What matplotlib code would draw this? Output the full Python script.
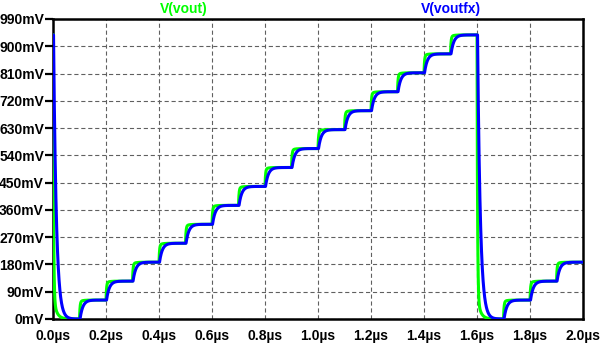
import numpy as np
import matplotlib
matplotlib.use("Agg")
import matplotlib.pyplot as plt

# ---- data ----
# staircase DAC code per 0.1 us slot (0.0-2.0 us), LSB = 62.5 mV
slot_start_us = [0.0, 0.1, 0.2, 0.3, 0.4, 0.5, 0.6, 0.7, 0.8, 0.9,
                 1.0, 1.1, 1.2, 1.3, 1.4, 1.5, 1.6, 1.7, 1.8, 1.9]
slot_code = [0, 1, 2, 3, 4, 5, 6, 7, 8, 9,
             10, 11, 12, 13, 14, 15, 0, 1, 2, 3]
initial_code = 15
lsb_mV = 62.5

# settling characteristics (us)
vout_fast_tau = 0.002
vout_slow_tau = 0.012
vout_fast_frac = 0.92
voutfx_tau = 0.0105
voutfx_delay = 0.002

y_ticks_mV = [0, 90, 180, 270, 360, 450, 540, 630, 720, 810, 900, 990]
y_tick_labels = ["0mV", "90mV", "180mV", "270mV", "360mV", "450mV", "540mV",
                 "630mV", "720mV", "810mV", "900mV", "990mV"]
x_ticks_us = [0.0, 0.2, 0.4, 0.6, 0.8, 1.0, 1.2, 1.4, 1.6, 1.8, 2.0]
x_tick_labels = ["0.0µs", "0.2µs", "0.4µs", "0.6µs", "0.8µs", "1.0µs",
                 "1.2µs", "1.4µs", "1.6µs", "1.8µs", "2.0µs"]

t = np.linspace(0.0, 2.0, 8001)
levels = np.array(slot_code) * lsb_mV
prev = np.concatenate([[initial_code * lsb_mV], levels[:-1]])


def response(h):
    y = np.full_like(t, initial_code * lsb_mV)
    for t0, lo, ln in zip(slot_start_us, prev, levels):
        y += (ln - lo) * h(t - t0)
    return y


def h_vout(d):
    d = np.clip(d, 0, None)
    r = 1 - (vout_fast_frac * np.exp(-d / vout_fast_tau)
             + (1 - vout_fast_frac) * np.exp(-d / vout_slow_tau))
    return np.where(d > 0, r, 0.0)


def h_voutfx(d):
    d = np.clip(d - voutfx_delay, 0, None)
    return np.where(d > 0, 1 - np.exp(-d / voutfx_tau), 0.0)


vout = response(h_vout)
voutfx = response(h_voutfx)

plt.rcParams["lines.scale_dashes"] = False
plt.rcParams["font.family"] = ["Liberation Sans", "DejaVu Sans"]

fig = plt.figure(figsize=(6.01, 3.45), dpi=100)
ax = fig.add_axes([53 / 601, 26 / 345, 530 / 601, 300 / 345])

ax.plot(t, vout, color="#00ff00", lw=2.2, zorder=3)
ax.plot(t, voutfx, color="#0000ff", lw=2.2, zorder=4)

ax.set_xlim(0, 2.0)
ax.set_ylim(0, 990)
ax.set_xticks(x_ticks_us)
ax.set_xticklabels(x_tick_labels)
ax.set_yticks(y_ticks_mV)
ax.set_yticklabels(y_tick_labels)
for lab in ax.get_xticklabels() + ax.get_yticklabels():
    lab.set_fontweight("bold")
    lab.set_fontsize(10)
ax.tick_params(axis="y", length=6, width=1.6, pad=0.5, color="black")
ax.tick_params(axis="x", length=0, pad=7)

ax.grid(True, color="#606060", lw=0.8, linestyle=(0, (3, 2)))
ax.set_axisbelow(True)
for s in ax.spines.values():
    s.set_linewidth(1.8)
    s.set_color("black")

fig.text(183.5 / 601, 1 - 9 / 345, "V(vout)", color="#00ff00", fontsize=10,
         fontweight="bold", ha="center", va="center")
fig.text(451 / 601, 1 - 9 / 345, "V(voutfx)", color="#0000ff", fontsize=10,
         fontweight="bold", ha="center", va="center")

fig.savefig("out.png", dpi=100)
